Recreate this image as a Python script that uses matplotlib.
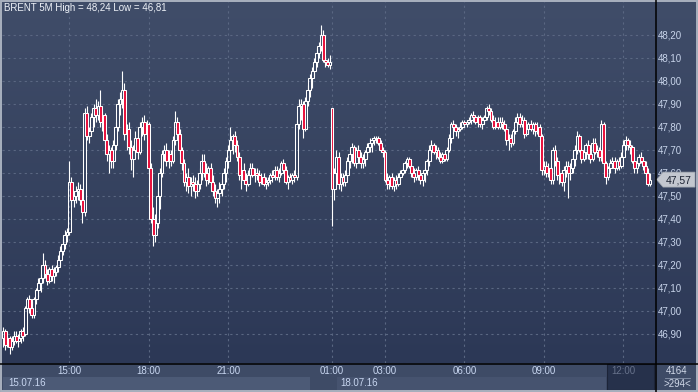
import matplotlib.pyplot as plt
import matplotlib.ticker as ticker
from matplotlib.colors import LinearSegmentedColormap
from matplotlib.patches import Rectangle, Polygon
from matplotlib.lines import Line2D
import numpy as np

plt.rcParams['font.family'] = ['Liberation Sans', 'DejaVu Sans']

symbol = 'BRENT'
timeframe = '5M'

# 5-minute bars, prices in hundredths of a dollar
opens = [
    4688, 4691, 4685, 4688, 4684, 4687, 4689, 4687, 4688, 4691,
    4690, 4701, 4705, 4701, 4698, 4705, 4709, 4712, 4714, 4720,
    4716, 4713, 4718, 4715, 4717, 4719, 4722, 4726, 4729, 4733,
    4734, 4756, 4748, 4750, 4752, 4753, 4748, 4743, 4786, 4776,
    4778, 4784, 4788, 4785, 4789, 4782, 4785, 4774, 4768, 4770,
    4765, 4772, 4780, 4790, 4792, 4796, 4777, 4779, 4771, 4766,
    4770, 4775, 4769, 4780, 4782, 4777, 4781, 4762, 4740, 4733,
    4738, 4750, 4760, 4768, 4770, 4765, 4768, 4765, 4774, 4782,
    4777, 4770, 4764, 4756, 4758, 4754, 4756, 4755, 4752, 4755,
    4760, 4765, 4760, 4757, 4762, 4756, 4752, 4749, 4751, 4753,
    4755, 4760, 4765, 4770, 4774, 4776, 4772, 4767, 4759, 4761,
    4757, 4755, 4759, 4762, 4759, 4760, 4759, 4756, 4758, 4755,
    4756, 4757, 4759, 4758, 4761, 4758, 4760, 4764, 4761, 4756,
    4758, 4757, 4759, 4758, 4781, 4789, 4790, 4779, 4791, 4796,
    4801, 4804, 4808, 4812, 4815, 4820, 4809, 4808, 4807, 4788,
    4753, 4760, 4767, 4755, 4758, 4756, 4759, 4765, 4768, 4771,
    4764, 4770, 4767, 4764, 4766, 4769, 4771, 4773, 4774, 4775,
    4775, 4773, 4770, 4769, 4757, 4755, 4758, 4754, 4757, 4755,
    4758, 4760, 4761, 4764, 4766, 4763, 4760, 4758, 4761, 4759,
    4757, 4760, 4761, 4765, 4770, 4772, 4769, 4770, 4767, 4765,
    4768, 4766, 4770, 4775, 4781, 4780, 4778, 4779, 4780, 4782,
    4781, 4782, 4783, 4785, 4784, 4782, 4784, 4781, 4783, 4784,
    4788, 4787, 4783, 4780, 4782, 4780, 4782, 4781, 4779, 4774,
    4775, 4773, 4778, 4782, 4784, 4781, 4783, 4777, 4779, 4781,
    4779, 4781, 4778, 4780, 4776, 4761, 4763, 4760, 4762, 4757,
    4770, 4765, 4759, 4760, 4756, 4761, 4763, 4760, 4762, 4766,
    4770, 4776, 4770, 4766, 4769, 4772, 4768, 4766, 4773, 4769,
    4770, 4767, 4781, 4764, 4758, 4762, 4764, 4765, 4762, 4765,
    4763, 4767, 4772, 4774, 4772, 4771, 4765, 4762, 4764, 4767,
    4765, 4763, 4760, 4755,
]
highs = [
    4693, 4692, 4689, 4689, 4689, 4691, 4691, 4690, 4692, 4693,
    4702, 4706, 4707, 4704, 4706, 4710, 4714, 4716, 4725, 4722,
    4718, 4719, 4720, 4719, 4720, 4724, 4728, 4731, 4735, 4736,
    4765, 4758, 4752, 4754, 4756, 4755, 4752, 4788, 4789, 4780,
    4786, 4790, 4792, 4791, 4796, 4787, 4786, 4777, 4772, 4771,
    4774, 4782, 4792, 4795, 4804, 4799, 4781, 4782, 4774, 4772,
    4778, 4779, 4782, 4784, 4785, 4783, 4782, 4764, 4745, 4742,
    4752, 4762, 4770, 4772, 4773, 4770, 4770, 4776, 4787, 4784,
    4779, 4771, 4766, 4760, 4762, 4758, 4759, 4758, 4757, 4762,
    4768, 4768, 4764, 4763, 4764, 4759, 4755, 4753, 4756, 4757,
    4762, 4767, 4772, 4780, 4777, 4778, 4774, 4769, 4763, 4764,
    4760, 4761, 4764, 4764, 4762, 4762, 4761, 4760, 4760, 4758,
    4758, 4760, 4761, 4763, 4763, 4762, 4765, 4766, 4763, 4759,
    4760, 4760, 4761, 4783, 4792, 4792, 4791, 4793, 4798, 4803,
    4806, 4810, 4814, 4817, 4824, 4822, 4811, 4810, 4811, 4788,
    4762, 4770, 4769, 4760, 4760, 4761, 4767, 4770, 4773, 4772,
    4771, 4772, 4769, 4768, 4770, 4773, 4775, 4775, 4776, 4776,
    4776, 4774, 4771, 4770, 4760, 4759, 4760, 4758, 4759, 4760,
    4761, 4762, 4765, 4767, 4767, 4765, 4762, 4762, 4763, 4761,
    4761, 4762, 4766, 4772, 4774, 4773, 4772, 4771, 4769, 4769,
    4769, 4771, 4777, 4782, 4783, 4781, 4780, 4782, 4783, 4783,
    4783, 4784, 4786, 4787, 4785, 4785, 4785, 4784, 4785, 4789,
    4790, 4788, 4785, 4784, 4784, 4784, 4784, 4783, 4781, 4777,
    4777, 4779, 4784, 4786, 4786, 4785, 4784, 4781, 4782, 4783,
    4782, 4782, 4782, 4781, 4777, 4765, 4765, 4764, 4763, 4771,
    4772, 4767, 4762, 4761, 4763, 4765, 4765, 4764, 4768, 4772,
    4778, 4777, 4773, 4771, 4773, 4774, 4771, 4775, 4775, 4772,
    4771, 4783, 4782, 4765, 4763, 4766, 4767, 4767, 4766, 4767,
    4769, 4774, 4776, 4775, 4774, 4772, 4767, 4766, 4768, 4769,
    4766, 4765, 4762, 4760,
]
lows = [
    4684, 4683, 4684, 4681, 4683, 4685, 4686, 4684, 4686, 4687,
    4689, 4700, 4699, 4697, 4697, 4703, 4706, 4708, 4712, 4714,
    4711, 4712, 4713, 4712, 4715, 4717, 4720, 4724, 4727, 4730,
    4733, 4745, 4745, 4747, 4748, 4746, 4738, 4741, 4774, 4773,
    4776, 4780, 4782, 4783, 4780, 4778, 4772, 4765, 4760, 4762,
    4762, 4770, 4778, 4785, 4788, 4774, 4770, 4768, 4761, 4758,
    4767, 4766, 4768, 4776, 4774, 4775, 4760, 4738, 4728, 4730,
    4736, 4744, 4758, 4765, 4763, 4762, 4763, 4764, 4772, 4775,
    4768, 4761, 4754, 4752, 4751, 4750, 4752, 4749, 4750, 4753,
    4757, 4758, 4754, 4755, 4753, 4750, 4747, 4745, 4747, 4750,
    4753, 4756, 4762, 4766, 4768, 4769, 4765, 4757, 4753, 4755,
    4752, 4754, 4757, 4758, 4756, 4757, 4754, 4755, 4754, 4753,
    4754, 4755, 4756, 4757, 4757, 4756, 4759, 4760, 4755, 4753,
    4756, 4755, 4756, 4757, 4779, 4783, 4775, 4778, 4789, 4793,
    4797, 4802, 4806, 4810, 4813, 4808, 4806, 4806, 4805, 4737,
    4748, 4756, 4753, 4752, 4754, 4754, 4757, 4762, 4764, 4763,
    4762, 4765, 4762, 4762, 4763, 4767, 4769, 4769, 4772, 4773,
    4772, 4769, 4767, 4756, 4753, 4753, 4753, 4752, 4753, 4754,
    4757, 4759, 4760, 4762, 4762, 4758, 4756, 4757, 4757, 4755,
    4754, 4756, 4759, 4763, 4768, 4768, 4766, 4766, 4764, 4764,
    4765, 4765, 4769, 4773, 4779, 4776, 4775, 4778, 4779, 4780,
    4780, 4781, 4781, 4782, 4781, 4780, 4780, 4779, 4781, 4783,
    4785, 4782, 4779, 4779, 4779, 4779, 4779, 4778, 4772, 4770,
    4771, 4772, 4777, 4780, 4780, 4780, 4775, 4776, 4777, 4778,
    4777, 4776, 4777, 4775, 4759, 4759, 4758, 4758, 4755, 4755,
    4763, 4757, 4755, 4754, 4752, 4758, 4749, 4757, 4760, 4763,
    4768, 4769, 4764, 4765, 4766, 4766, 4764, 4765, 4768, 4767,
    4765, 4765, 4763, 4755, 4757, 4760, 4762, 4760, 4761, 4761,
    4762, 4766, 4770, 4770, 4768, 4764, 4760, 4760, 4763, 4764,
    4761, 4758, 4754, 4754,
]
closes = [
    4691, 4685, 4688, 4684, 4687, 4689, 4687, 4688, 4691, 4689,
    4701, 4705, 4701, 4698, 4705, 4709, 4712, 4714, 4720, 4716,
    4713, 4718, 4715, 4717, 4719, 4722, 4726, 4729, 4733, 4734,
    4756, 4748, 4750, 4752, 4753, 4748, 4743, 4786, 4776, 4778,
    4784, 4788, 4785, 4789, 4782, 4785, 4774, 4768, 4770, 4765,
    4772, 4780, 4790, 4792, 4796, 4777, 4779, 4771, 4766, 4770,
    4775, 4769, 4780, 4782, 4777, 4781, 4762, 4740, 4733, 4738,
    4750, 4760, 4768, 4770, 4765, 4768, 4765, 4774, 4782, 4777,
    4770, 4764, 4756, 4758, 4754, 4756, 4755, 4752, 4755, 4760,
    4765, 4760, 4757, 4762, 4756, 4752, 4749, 4751, 4753, 4755,
    4760, 4765, 4770, 4774, 4776, 4772, 4767, 4759, 4761, 4757,
    4755, 4759, 4762, 4759, 4760, 4759, 4756, 4758, 4755, 4756,
    4757, 4759, 4758, 4761, 4758, 4760, 4764, 4761, 4756, 4758,
    4757, 4759, 4758, 4781, 4789, 4790, 4779, 4791, 4796, 4801,
    4804, 4808, 4812, 4815, 4820, 4809, 4808, 4807, 4808, 4753,
    4760, 4767, 4755, 4758, 4756, 4759, 4765, 4768, 4771, 4764,
    4770, 4767, 4764, 4766, 4769, 4771, 4773, 4774, 4775, 4775,
    4773, 4770, 4769, 4757, 4755, 4758, 4754, 4757, 4755, 4758,
    4760, 4761, 4764, 4766, 4763, 4760, 4758, 4761, 4759, 4757,
    4760, 4761, 4765, 4770, 4772, 4769, 4770, 4767, 4765, 4768,
    4766, 4770, 4775, 4781, 4780, 4778, 4779, 4780, 4782, 4781,
    4782, 4783, 4785, 4784, 4782, 4784, 4781, 4783, 4784, 4788,
    4787, 4783, 4780, 4782, 4780, 4782, 4781, 4779, 4774, 4775,
    4773, 4778, 4782, 4784, 4781, 4783, 4777, 4779, 4781, 4779,
    4781, 4778, 4780, 4776, 4761, 4763, 4760, 4762, 4757, 4770,
    4765, 4759, 4760, 4756, 4761, 4763, 4760, 4762, 4766, 4770,
    4776, 4770, 4766, 4769, 4772, 4768, 4766, 4773, 4769, 4770,
    4767, 4781, 4764, 4758, 4762, 4764, 4765, 4762, 4765, 4763,
    4767, 4772, 4774, 4772, 4771, 4765, 4762, 4764, 4767, 4765,
    4763, 4760, 4755, 4757,
]

tick_bars = [30, 66, 102, 149, 173, 209, 245, 281]
tick_labels = ['15:00', '18:00', '21:00', '01:00', '03:00', '06:00', '09:00', '12:00']
date_labels = ['15.07.16', '18.07.16']
total_bars = 4164

assert len(opens) == len(highs) == len(lows) == len(closes)

o = np.array(opens) / 100
h = np.array(highs) / 100
l = np.array(lows) / 100
c = np.array(closes) / 100
x = np.arange(len(c))

W, H = 698, 392
fig = plt.figure(figsize=(W / 100, H / 100), dpi=100)
fig.patch.set_facecolor('#3e4b66')

# gradient background behind chart + price scale
bg = fig.add_axes([0, 29 / H, 1, 1 - 29 / H], zorder=0)
cmap = LinearSegmentedColormap.from_list('bg', ['#404d69', '#2c3856'])
bg.imshow(np.linspace(0, 1, 256)[:, None], aspect='auto', cmap=cmap, extent=[0, 1, 0, 1])
bg.axis('off')

ax = fig.add_axes([2 / W, 29 / H, 653 / W, 362 / H], zorder=2)
ax.patch.set_alpha(0)
ax.set_xlim(-0.45, 295.3)
ax.set_ylim(46.7726, 48.3465)

ax.set_yticks(np.arange(46.9, 48.25, 0.1))
ax.set_xticks(tick_bars)
ax.grid(True, color='#5a6782', linestyle=(0, (2, 3)), linewidth=0.8)
ax.set_axisbelow(True)
ax.tick_params(axis='x', length=0, labelbottom=False)
ax.tick_params(axis='y', length=0, left=False, labelleft=False, right=False,
               labelright=True, labelsize=7, labelcolor='#c8d4ea', pad=2.2)
ax.yaxis.set_major_formatter(ticker.FuncFormatter(lambda v, p: f'{v:.2f}'.replace('.', ',')))
for s in ax.spines.values():
    s.set_visible(False)

# candles
up = c >= o
top = np.maximum(o, c)
bot = np.minimum(o, c)
ax.vlines(x, top, h, color='white', linewidth=0.8, zorder=3)
ax.vlines(x, l, bot, color='white', linewidth=0.8, zorder=3)
ax.bar(x[up], (top - bot)[up], bottom=bot[up], width=1.3, color='none',
       edgecolor='white', linewidth=0.75, zorder=4)
ax.bar(x[~up], (top - bot)[~up], bottom=bot[~up], width=1.3, color='#e8103c',
       edgecolor='white', linewidth=0.75, zorder=4)

# overlay in image pixel coordinates
ov = fig.add_axes([0, 0, 1, 1], zorder=5)
ov.set_xlim(0, W)
ov.set_ylim(H, 0)
ov.axis('off')
ov.patch.set_alpha(0)


def bar_px(b):
    return ax.transData.transform((b, 0))[0]


def price_px(p):
    return H - ax.transData.transform((0, p))[1]


# last price tag
py = price_px(c[-1])
ov.add_patch(Polygon([(656.5, py), (663, py - 7.5), (695, py - 7.5), (695, py + 7.5), (663, py + 7.5)],
                     closed=True, facecolor='#c3c7cf', edgecolor='#9aa0aa', linewidth=0.5))
ov.text(679, py + 0.5, f'{c[-1]:.2f}'.replace('.', ','), ha='center', va='center',
        fontsize=7.5, color='#1c2333')

# time axis panel
ov.add_patch(Rectangle((0, 363), W, 29, facecolor='#3e4b66', edgecolor='none'))
ov.add_patch(Rectangle((3, 377), 307, 13, facecolor='#4c5a76', edgecolor='none'))
ov.add_patch(Rectangle((337, 377), 269, 13, facecolor='#46536f', edgecolor='none'))
ov.add_patch(Rectangle((607, 364), 47, 26, facecolor='#26314b', edgecolor='#1c2438', linewidth=0.8))

for b, lab in zip(tick_bars, tick_labels):
    col = '#66718a' if lab == tick_labels[-1] else '#c8d6f0'
    ov.text(bar_px(b), 371.5, lab, ha='center', va='center', fontsize=7, color=col)
ov.text(8, 383.5, date_labels[0], ha='left', va='center', fontsize=7, color='#c8d6f0')
ov.text(340, 383.5, date_labels[1], ha='left', va='center', fontsize=7, color='#c8d6f0')

# bar counter corner
ov.text(677, 371, str(total_bars), ha='center', va='center', fontsize=7, color='#d0d8e8')
ov.add_line(Line2D([665, 690], [377.5, 377.5], color='#8a96ac', linewidth=0.6))
ov.text(677, 384, f'>{len(c)}<', ha='center', va='center', fontsize=7, color='#d0d8e8')

# frame lines
ov.add_line(Line2D([655.5, 655.5], [0, H], color='black', linewidth=1.1))
ov.add_line(Line2D([0, W], [363.5, 363.5], color='black', linewidth=1.1))
ov.add_patch(Rectangle((0.7, 0.7), W - 1.4, H - 1.4, facecolor='none', edgecolor='#a9b1bf', linewidth=1.4))

# title
title = f'{symbol} {timeframe} High = {h.max():.2f} Low = {l.min():.2f}'.replace('.', ',')
ov.text(4, 8, title, ha='left', va='center', fontsize=7, color='#eef2f8')

fig.savefig('out.png', dpi=100, facecolor=fig.get_facecolor())
